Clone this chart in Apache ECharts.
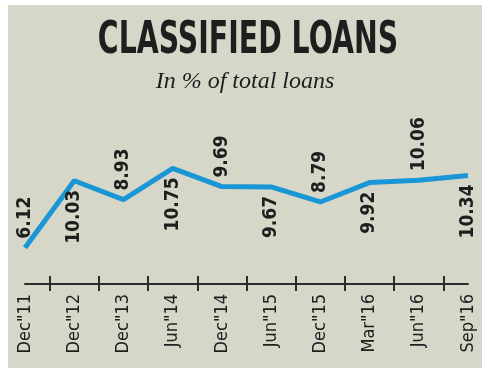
<!DOCTYPE html>
<html><head><meta charset="utf-8">
<script src="https://cdn.jsdelivr.net/npm/echarts@6/dist/echarts.min.js"></script>
<style>html,body{margin:0;padding:0;background:#fff}#c{width:490px;height:374px}</style>
</head><body><div id="c"></div>
<script>
const categories = ['Dec"11','Dec"12','Dec"13','Jun"14','Dec"14','Jun"15','Dec"15','Mar"16','Jun"16','Sep"16'];
const values = [6.12, 10.03, 8.93, 10.75, 9.69, 9.67, 8.79, 9.92, 10.06, 10.34];
const titleText = 'CLASSIFIED LOANS';
const subtitleText = 'In % of total loans';

const chart = echarts.init(document.getElementById('c'), null, {renderer: 'canvas'});
const idx = categories.map((_, i) => i);
const ticks = idx.slice(0, -1).map(i => i + 0.5);
const ink = '#1e1e1e';
const axisCol = '#2b2b2b';

chart.setOption({
  backgroundColor: '#ffffff',
  animation: false,
  graphic: [
    {type: 'rect', shape: {x: 8, y: 5, width: 474, height: 363}, style: {fill: '#d6d7c8'}, z: -10},
    {type: 'text', x: 248, y: 42, scaleX: 0.66, scaleY: 1.02, style: {text: titleText, font: 'bold 43px "DejaVu Sans"', fill: ink, align: 'center', verticalAlign: 'middle'}},
    {type: 'text', x: 245, y: 82, style: {text: subtitleText, font: 'italic 24px "Liberation Serif"', fill: ink, align: 'center', verticalAlign: 'middle'}}
  ],
  grid: {left: 25, right: 22, top: 147, bottom: 90},
  xAxis: [{
    type: 'value', min: 0, max: 9,
    splitLine: {show: false},
    axisLine: {show: true, lineStyle: {color: axisCol, width: 2}},
    axisTick: {show: true, customValues: ticks, length: 7, lineStyle: {color: axisCol, width: 2}},
    axisLabel: {customValues: idx, rotate: 90, formatter: v => categories[Math.round(v)],
      fontFamily: '"DejaVu Sans Condensed"', fontSize: 18, color: ink, margin: 10, padding: [0, 0, 0, 0]}
  }, {
    type: 'value', min: 0, max: 9, position: 'bottom', gridIndex: 0,
    splitLine: {show: false}, axisLine: {show: false}, axisLabel: {show: false},
    axisTick: {show: true, inside: true, customValues: ticks, length: 8, lineStyle: {color: axisCol, width: 2}}
  }],
  yAxis: {type: 'value', min: 4, max: 12, show: false, splitLine: {show: false}},
  series: [{
    type: 'line',
    data: values.map((v, i) => {
      const up = i % 2 === 0;
      return {value: [i, v], label: {position: up ? 'top' : 'bottom', align: up ? 'left' : 'right'}};
    }),
    symbol: 'circle', symbolSize: 0.01,
    itemStyle: {color: '#1a96d6'},
    lineStyle: {color: '#1a96d6', width: 5},
    label: {show: true, rotate: 90, verticalAlign: 'middle', distance: 9,
      formatter: p => p.value[1].toFixed(2),
      fontFamily: '"DejaVu Sans Condensed"', fontWeight: 'bold', fontSize: 19, color: ink}
  }]
});
</script></body></html>
